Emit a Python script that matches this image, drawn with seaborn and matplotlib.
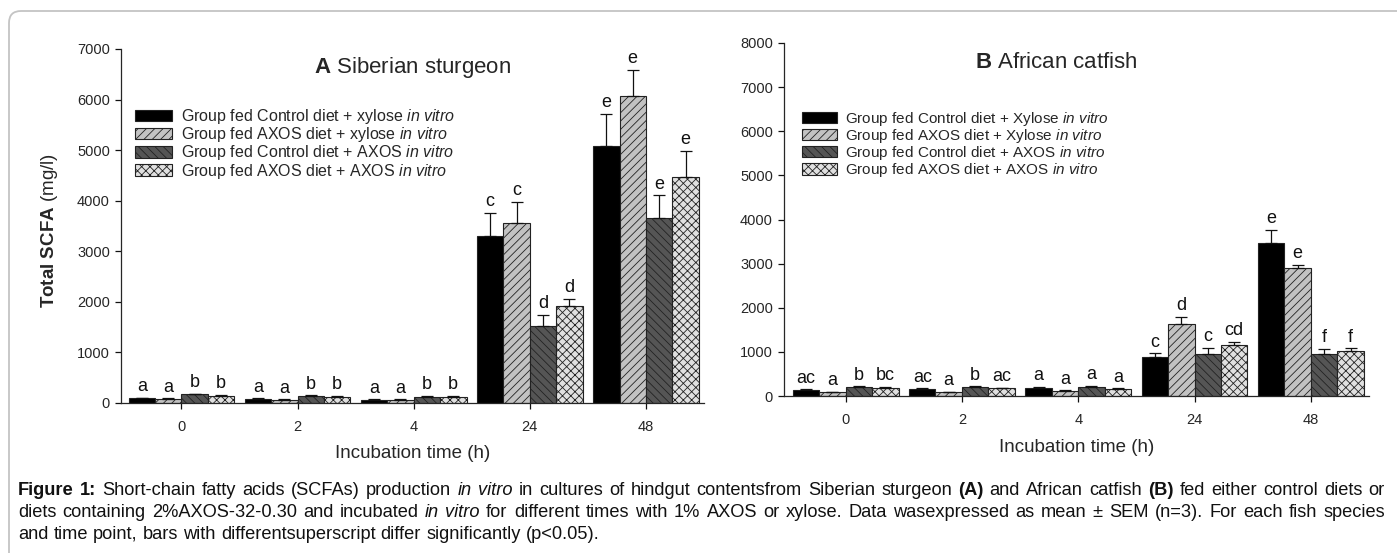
import numpy as np
import pandas as pd
import matplotlib
matplotlib.use("Agg")
import matplotlib.pyplot as plt
import seaborn as sns
from matplotlib.patches import Patch, FancyBboxPatch

# ---------------- data ----------------
times = ["0", "2", "4", "24", "48"]
groups = ["ctrl_xyl", "axos_xyl", "ctrl_axos", "axos_axos"]

labels_A = [r"Group fed Control diet + xylose $\mathit{in\ vitro}$",
            r"Group fed AXOS diet + xylose $\mathit{in\ vitro}$",
            r"Group fed Control diet + AXOS $\mathit{in\ vitro}$",
            r"Group fed AXOS diet + AXOS $\mathit{in\ vitro}$"]
labels_B = [r"Group fed Control diet + Xylose $\mathit{in\ vitro}$",
            r"Group fed AXOS diet + Xylose $\mathit{in\ vitro}$",
            r"Group fed Control diet + AXOS $\mathit{in\ vitro}$",
            r"Group fed AXOS diet + AXOS $\mathit{in\ vitro}$"]

# Panel A: Siberian sturgeon (mean, SEM, letters)
A_ctrl_xyl = [90, 80, 55, 3305, 5080]
A_axos_xyl = [80, 65, 60, 3550, 6080]
A_ctrl_axos = [170, 140, 125, 1530, 3665]
A_axos_axos = [145, 125, 125, 1910, 4460]
A_sem_ctrl_xyl = [10, 10, 15, 455, 640]
A_sem_axos_xyl = [10, 8, 10, 430, 510]
A_sem_ctrl_axos = [10, 10, 10, 220, 440]
A_sem_axos_axos = [10, 10, 10, 145, 530]
A_let_ctrl_xyl = ["a", "a", "a", "c", "e"]
A_let_axos_xyl = ["a", "a", "a", "c", "e"]
A_let_ctrl_axos = ["b", "b", "b", "d", "e"]
A_let_axos_axos = ["b", "b", "b", "d", "e"]

# Panel B: African catfish
B_ctrl_xyl = [135, 160, 190, 890, 3475]
B_axos_xyl = [85, 90, 115, 1630, 2890]
B_ctrl_axos = [210, 210, 205, 950, 950]
B_axos_axos = [190, 175, 160, 1145, 1010]
B_sem_ctrl_xyl = [15, 10, 10, 75, 290]
B_sem_axos_xyl = [10, 8, 10, 165, 80]
B_sem_ctrl_axos = [10, 10, 25, 135, 115]
B_sem_axos_axos = [10, 10, 10, 75, 70]
B_let_ctrl_xyl = ["ac", "ac", "a", "c", "e"]
B_let_axos_xyl = ["a", "a", "a", "d", "e"]
B_let_ctrl_axos = ["b", "b", "a", "c", "f"]
B_let_axos_axos = ["bc", "ac", "a", "cd", "f"]

yticks_A = [0, 1000, 2000, 3000, 4000, 5000, 6000, 7000]
yticks_B = [0, 1000, 2000, 3000, 4000, 5000, 6000, 7000, 8000]

# ---------------- style ----------------
sns.set_theme(style="ticks")
plt.rcParams["font.family"] = ["Liberation Sans", "DejaVu Sans"]
plt.rcParams["mathtext.fontset"] = "custom"
plt.rcParams["mathtext.rm"] = "Liberation Sans"
plt.rcParams["mathtext.it"] = "Liberation Sans:italic"
plt.rcParams["mathtext.bf"] = "Liberation Sans:bold"
plt.rcParams["hatch.linewidth"] = 0.6
plt.rcParams["axes.linewidth"] = 0.9

face = ["#000000", "#c2c2c2", "#555555", "#e0e0e0"]
hatches = [None, "////", "\\\\\\\\", "xxxx"]

W, H = 1397, 553
fig = plt.figure(figsize=(W / 100, H / 100), dpi=100)

def px_axes(x0, y_top, x1, y_bot):
    return fig.add_axes([x0 / W, 1 - y_bot / H, (x1 - x0) / W, (y_bot - y_top) / H])

axA = px_axes(121, 49, 704, 403)
axB = px_axes(784, 43, 1369, 396)

def make_df(series, sems, lets):
    rows = []
    for g, vals, ss, ll in zip(groups, series, sems, lets):
        for t, v, s, l in zip(times, vals, ss, ll):
            rows.append(dict(time=t, group=g, value=v, sem=s, letter=l))
    return pd.DataFrame(rows)

dfA = make_df([A_ctrl_xyl, A_axos_xyl, A_ctrl_axos, A_axos_axos],
              [A_sem_ctrl_xyl, A_sem_axos_xyl, A_sem_ctrl_axos, A_sem_axos_axos],
              [A_let_ctrl_xyl, A_let_axos_xyl, A_let_ctrl_axos, A_let_axos_axos])
dfB = make_df([B_ctrl_xyl, B_axos_xyl, B_ctrl_axos, B_axos_axos],
              [B_sem_ctrl_xyl, B_sem_axos_xyl, B_sem_ctrl_axos, B_sem_axos_axos],
              [B_let_ctrl_xyl, B_let_axos_xyl, B_let_ctrl_axos, B_let_axos_axos])

def draw_panel(ax, df, ymax, yticks, xlim, title_bold, title_rest, title_xy, labels, leg_xy,
               leg_fs, xlabel_y):
    sns.barplot(data=df, x="time", y="value", hue="group", order=times, hue_order=groups,
                palette=face, width=0.91, gap=0, errorbar=None, edgecolor="#222222",
                linewidth=0.8, legend=False, ax=ax)
    bar_conts = list(ax.containers)[:len(groups)]
    for i, cont in enumerate(bar_conts):
        sub = df[df["group"] == groups[i]].set_index("time").loc[times]
        xs, ys = [], []
        for bar in cont:
            if hatches[i]:
                bar.set_hatch(hatches[i])
            xs.append(bar.get_x() + bar.get_width() / 2)
            ys.append(bar.get_height())
        ax.errorbar(xs, ys, yerr=[np.zeros(len(xs)), sub["sem"].values], fmt="none",
                    ecolor="#111111", elinewidth=0.9, capsize=4, capthick=0.9, zorder=3)
        for x, y, s, l in zip(xs, ys, sub["sem"].values, sub["letter"].values):
            ax.annotate(l, (x, y + s), xytext=(0, 2), textcoords="offset points",
                        ha="center", va="bottom", fontsize=13, color="#111111")
    ax.set_ylim(0, ymax)
    ax.set_xlim(*xlim)
    ax.set_yticks(yticks)
    ax.set_yticklabels([str(v) for v in yticks], fontsize=10.5)
    ax.set_xticks(range(len(times)))
    ax.set_xticklabels(times, fontsize=10.5)
    ax.tick_params(axis="both", direction="out", length=4, width=0.9, color="#111111", pad=4)
    ax.tick_params(axis="x", pad=8)
    ax.set_xlabel("")
    ax.set_ylabel("")
    sns.despine(ax=ax)
    fig.text(title_xy[0] / W, 1 - title_xy[1] / H, r"$\mathbf{" + title_bold + "}$ " + title_rest,
             ha="center", va="center", fontsize=16)
    handles = [Patch(facecolor=face[i], edgecolor="#222222", hatch=hatches[i], linewidth=0.8)
               for i in range(4)]
    ax.legend(handles, labels, loc="upper left", bbox_to_anchor=(leg_xy[0] / W, 1 - leg_xy[1] / H),
              bbox_transform=fig.transFigure, frameon=False, fontsize=leg_fs, borderpad=0,
              handlelength=2.3, handleheight=0.75, handletextpad=0.55, labelspacing=-0.05)
    bb = ax.get_position()
    fig.text((bb.x0 + bb.x1) / 2, 1 - xlabel_y / H, "Incubation time (h)", ha="center", va="center",
             fontsize=13.5)

draw_panel(axA, dfA, 7000, yticks_A, (-0.52, 4.5), "A", "Siberian sturgeon", (413, 67), labels_A,
           (127, 99), 11.5, 453)
draw_panel(axB, dfB, 8000, yticks_B, (-0.53, 4.5), "B", "African catfish", (1056, 62), labels_B,
           (794, 102), 11, 448)

fig.text(50 / W, 1 - 230 / H, r"$\mathbf{Total\ SCFA}$ (mg/l)", rotation=90, ha="center",
         va="center", fontsize=13.5)

# border
border = FancyBboxPatch((9, -60), 2000, H - 11 + 60, boxstyle="round,pad=0,rounding_size=12",
                        transform=None, facecolor="none", edgecolor="#c4c4c4", linewidth=1.3)
fig.add_artist(border)

# caption with mixed styles, justified
cap_lines = [
    [("Figure 1:", "bold", "normal"), ("Short-chain fatty acids (SCFAs) production", "normal", "normal"),
     ("in vitro", "normal", "italic"), ("in cultures of hindgut contentsfrom Siberian sturgeon", "normal", "normal"),
     ("(A)", "bold", "normal"), ("and African catfish", "normal", "normal"), ("(B)", "bold", "normal"),
     ("fed either control diets or", "normal", "normal")],
    [("diets containing 2%AXOS-32-0.30 and incubated", "normal", "normal"), ("in vitro", "normal", "italic"),
     ("for different times with 1% AXOS or xylose. Data wasexpressed as mean ± SEM (n=3). For each fish species",
      "normal", "normal")],
    [("and time point, bars with differentsuperscript differ significantly (p<0.05).", "normal", "normal")],
]
cap_base = [495, 517, 539]
x_left, x_right = 18, 1385
renderer = fig.canvas.get_renderer()

def line_words(line):
    words = []
    for txt, wt, st in line:
        for w in txt.split(" "):
            words.append((w, wt, st))
    return words

def space_width(fs):
    t1 = fig.text(0, 0, "a a", fontsize=fs)
    t2 = fig.text(0, 0, "aa", fontsize=fs)
    s = t1.get_window_extent(renderer).width - t2.get_window_extent(renderer).width
    t1.remove(); t2.remove()
    return s

# choose caption font size so line 1 fits naturally
base_fs = 10.0
tmp = [fig.text(0, 0, w, fontsize=base_fs, fontweight=wt, fontstyle=st) for w, wt, st in line_words(cap_lines[0])]
nat = sum(t.get_window_extent(renderer).width for t in tmp) + space_width(base_fs) * (len(tmp) - 1)
for t in tmp:
    t.remove()
cap_fs = base_fs * (x_right - x_left) / nat * 0.985

sp = space_width(cap_fs)
for li, line in enumerate(cap_lines):
    words = line_words(line)
    arts = [fig.text(0, 1 - cap_base[li] / H, w, fontsize=cap_fs, fontweight=wt, fontstyle=st,
                     ha="left", va="baseline", color="#111111") for w, wt, st in words]
    widths = [a.get_window_extent(renderer).width for a in arts]
    if li < len(cap_lines) - 1:
        gap = (x_right - x_left - sum(widths)) / (len(words) - 1)
    else:
        gap = sp
    x = x_left
    for a, wdt in zip(arts, widths):
        a.set_x(x / W)
        x += wdt + gap

fig.savefig("out.png", dpi=100)
